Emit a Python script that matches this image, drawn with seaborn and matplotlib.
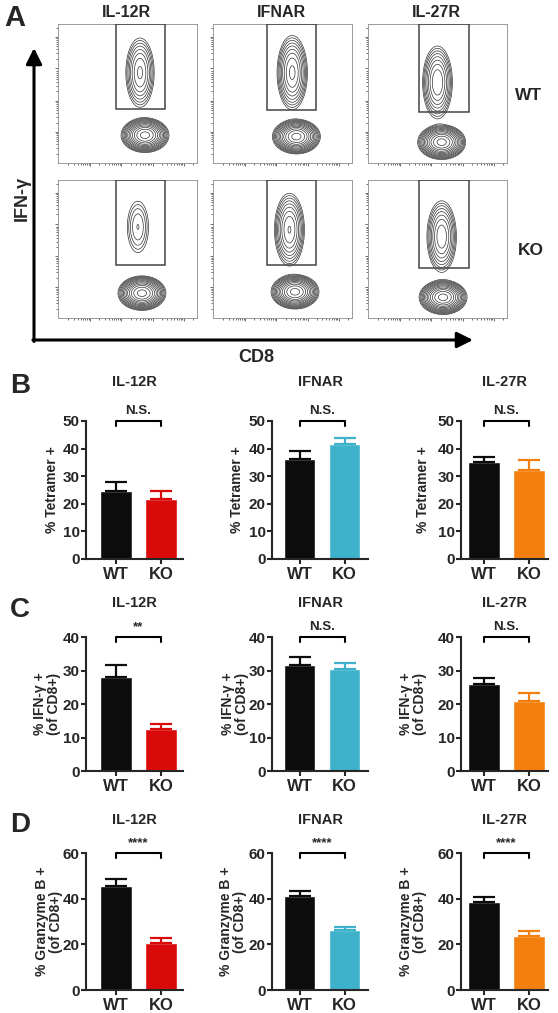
import numpy as np
import pandas as pd
import matplotlib
matplotlib.use("Agg")
import matplotlib.pyplot as plt
from matplotlib.patches import Rectangle
import seaborn as sns

sns.set_style("ticks")
plt.rcParams["font.family"] = ["Liberation Sans", "DejaVu Sans"]
plt.rcParams["font.weight"] = "bold"

# ---------------- data ----------------
receptors = ["IL-12R", "IFNAR", "IL-27R"]
groups = ["WT", "KO"]
wt_color = "#0c0c0c"
ko_colors = ["#db0a0a", "#3db2ca", "#f57f0e"]

# panel A: flow plots (rows WT / KO), gate percentages and population centres
gate_pct = [["24.1", "31.6", "29.2"], ["9.27", "30.0", "28.1"]]
neg_x = [[0.626, 0.60, 0.53], [0.604, 0.59, 0.54]]
neg_y = [[0.20, 0.19, 0.15], [0.18, 0.19, 0.15]]
pos_x = [[0.59, 0.57, 0.50], [0.575, 0.55, 0.53]]
pos_y = [[0.65, 0.65, 0.58], [0.66, 0.64, 0.59]]
gate_left = [0.415, 0.388, 0.367]
gate_right = [0.77, 0.74, 0.727]
gate_bottom = [[0.388, 0.38, 0.367], [0.384, 0.384, 0.362]]

# panels B-D: mean and SEM, per receptor [WT, KO]
tet_mean = [[24.5, 21.6], [36.1, 41.5], [35.0, 32.1]]
tet_sem = [[3.3, 2.9], [2.9, 2.2], [1.8, 3.6]]
ifng_mean = [[28.0, 12.5], [31.5, 30.4], [26.0, 21.0]]
ifng_sem = [[3.5, 1.5], [2.5, 1.7], [1.7, 2.2]]
gzmb_mean = [[45.5, 20.6], [41.2, 26.1], [38.5, 23.8]]
gzmb_sem = [[3.0, 2.3], [2.3, 1.6], [2.4, 1.9]]
tet_sig = ["N.S.", "N.S.", "N.S."]
ifng_sig = ["**", "N.S.", "N.S."]
gzmb_sig = ["****", "****", "****"]

W, H = 558, 1013
fig = plt.figure(figsize=(W / 100, H / 100), dpi=100)


def px_rect(l, t, r, b):
    return [l / W, 1 - b / H, (r - l) / W, (b - t) / H]


over = fig.add_axes([0, 0, 1, 1])
over.set_xlim(0, W)
over.set_ylim(H, 0)
over.axis("off")


def label(x, y, s, size=10, **kw):
    over.text(x, y, s, ha="center", va="center", fontsize=size,
              fontweight="bold", **kw)


# ---------------- panel A ----------------
col_l = [58, 213, 368]
col_r = [197, 352, 507]
row_t = [24, 180]
row_b = [163, 318]
text_x = [87, 238, 397]
text_y = [68, 224]

grid = np.linspace(0, 1, 260)
X, Y = np.meshgrid(grid, grid)


def blob(cx, cy, sx, sy):
    return np.exp(-((X - cx) ** 2 / (2 * sx ** 2) + (Y - cy) ** 2 / (2 * sy ** 2))) / (sx * sy)


dec = 0.224
x_major = [0.23, 0.455, 0.68, 0.905]
y_major = [0.223, 0.447, 0.683, 0.906]


def log_ticks(majors):
    minors = []
    for m in majors:
        for k in range(2, 10):
            p = m + np.log10(k) * dec
            if p < 1:
                minors.append(p)
            q = m - dec + np.log10(k) * dec
            if 0 < q < majors[0]:
                minors.append(q)
    return minors


for r in range(2):
    for c in range(3):
        ax = fig.add_axes(px_rect(col_l[c], row_t[r], col_r[c], row_b[r]))
        w = float(gate_pct[r][c]) / 100
        Z = (1 - w) * blob(neg_x[r][c], neg_y[r][c], 0.058, 0.042) \
            + w * blob(pos_x[r][c], pos_y[r][c], 0.045, 0.11)
        levels = np.geomspace(0.012, 0.85, 13) * Z.max()
        ax.contour(X, Y, Z, levels=levels, colors="#333333", linewidths=0.5)
        gl, gr, gb = gate_left[c], gate_right[c], gate_bottom[r][c]
        ax.add_patch(Rectangle((gl, gb), gr - gl, 1 - gb, fill=False,
                               edgecolor="#444444", lw=1.1, zorder=3))
        ax.set_xlim(0, 1)
        ax.set_ylim(0, 1)
        ax.set_xticks(x_major)
        ax.set_xticks(log_ticks(x_major), minor=True)
        ax.set_yticks(y_major)
        ax.set_yticks(log_ticks(y_major), minor=True)
        ax.tick_params(which="both", labelbottom=False, labelleft=False,
                       direction="out", width=0.6, color="#555555")
        ax.tick_params(which="major", length=2.5)
        ax.tick_params(which="minor", length=1.2)
        for s in ax.spines.values():
            s.set_color("#999999")
            s.set_linewidth(0.7)
        label(text_x[c], text_y[r], "IFN-γ+\n" + gate_pct[r][c],
              size=9.5, linespacing=1.0)

for c, name in enumerate(receptors):
    label((col_l[c] + col_r[c]) / 2 - 1, 12, name, size=11.5)
label(529, 95, "WT", size=12.5)
label(531, 250, "KO", size=12.5)
label(15, 18, "A", size=21)
label(22, 198, "IFN-γ", size=13, rotation=90)
label(256, 357, "CD8", size=13)
over.annotate("", xy=(34, 48), xytext=(34, 341.5),
              arrowprops=dict(arrowstyle="-|>", lw=2.2, color="black",
                              mutation_scale=24, shrinkA=0, shrinkB=0))
over.annotate("", xy=(473, 340), xytext=(32.9, 340),
              arrowprops=dict(arrowstyle="-|>", lw=2.2, color="black",
                              mutation_scale=24, shrinkA=0, shrinkB=0))

# ---------------- panels B-D ----------------
bar_l = [86, 272, 461]
bar_r = [183, 368, 548]
bar_c0 = [116, 299.5, 484]
unit = 45.0

rows = [
    dict(mean=tet_mean, sem=tet_sem, sig=tet_sig, top=421, bottom=559, ymax=50,
         yt=[0, 10, 20, 30, 40, 50], ylab="% Tetramer +", lab_x=[52, 237, 423],
         title_y=382, letter="B", letter_y=386),
    dict(mean=ifng_mean, sem=ifng_sem, sig=ifng_sig, top=637, bottom=771, ymax=40,
         yt=[0, 10, 20, 30, 40], ylab="% IFN-γ +\n(of CD8+)", lab_x=[47, 235, 413],
         title_y=603, letter="C", letter_y=610),
    dict(mean=gzmb_mean, sem=gzmb_sem, sig=gzmb_sig, top=853, bottom=990, ymax=60,
         yt=[0, 20, 40, 60], ylab="% Granzyme B +\n(of CD8+)", lab_x=[49, 233, 413],
         title_y=820, letter="D", letter_y=825),
]

for row in rows:
    label(20, row["letter_y"], row["letter"], size=20)
    for c in range(3):
        ax = fig.add_axes(px_rect(bar_l[c], row["top"], bar_r[c], row["bottom"]))
        df = pd.DataFrame({"group": groups, "value": row["mean"][c]})
        sns.barplot(data=df, x="group", y="value", hue="group",
                    palette=[wt_color, ko_colors[c]], width=0.7, saturation=1,
                    errorbar=None, legend=False, ax=ax)
        for i, col in enumerate([wt_color, ko_colors[c]]):
            ax.errorbar(i, row["mean"][c][i], yerr=[[0], [row["sem"][c][i]]],
                        fmt="none", ecolor=col, elinewidth=1.6, capsize=8,
                        capthick=1.6, zorder=1)
        ax.set_xlim((bar_l[c] - bar_c0[c]) / unit, (bar_r[c] - bar_c0[c]) / unit)
        ax.set_ylim(0, row["ymax"])
        ax.set_yticks(row["yt"])
        ax.set_xlabel("")
        ax.set_ylabel("")
        sns.despine(ax=ax)
        for s in ["left", "bottom"]:
            ax.spines[s].set_linewidth(1.5)
        ax.tick_params(axis="both", width=1.5, length=3.5, labelsize=11, pad=1)
        ax.tick_params(axis="x", labelsize=12, pad=2)
        for t in ax.get_xticklabels() + ax.get_yticklabels():
            t.set_fontweight("bold")
        # significance bracket
        top = row["ymax"]
        d = top * 0.035
        ax.plot([0, 0, 1, 1], [top - d, top, top, top - d], color="black",
                lw=1.5, clip_on=False)
        ax.annotate(row["sig"][c], xy=(0.5, top), xytext=(0, 3),
                    textcoords="offset points", ha="center", va="bottom",
                    fontsize=9.5, fontweight="bold", annotation_clip=False)
        label((bar_l[c] + bar_r[c]) / 2, row["title_y"], receptors[c], size=10.5)
        label(row["lab_x"][c], (row["top"] + row["bottom"]) / 2, row["ylab"],
              size=10, rotation=90, linespacing=0.95)

fig.savefig("out.png", dpi=100)
